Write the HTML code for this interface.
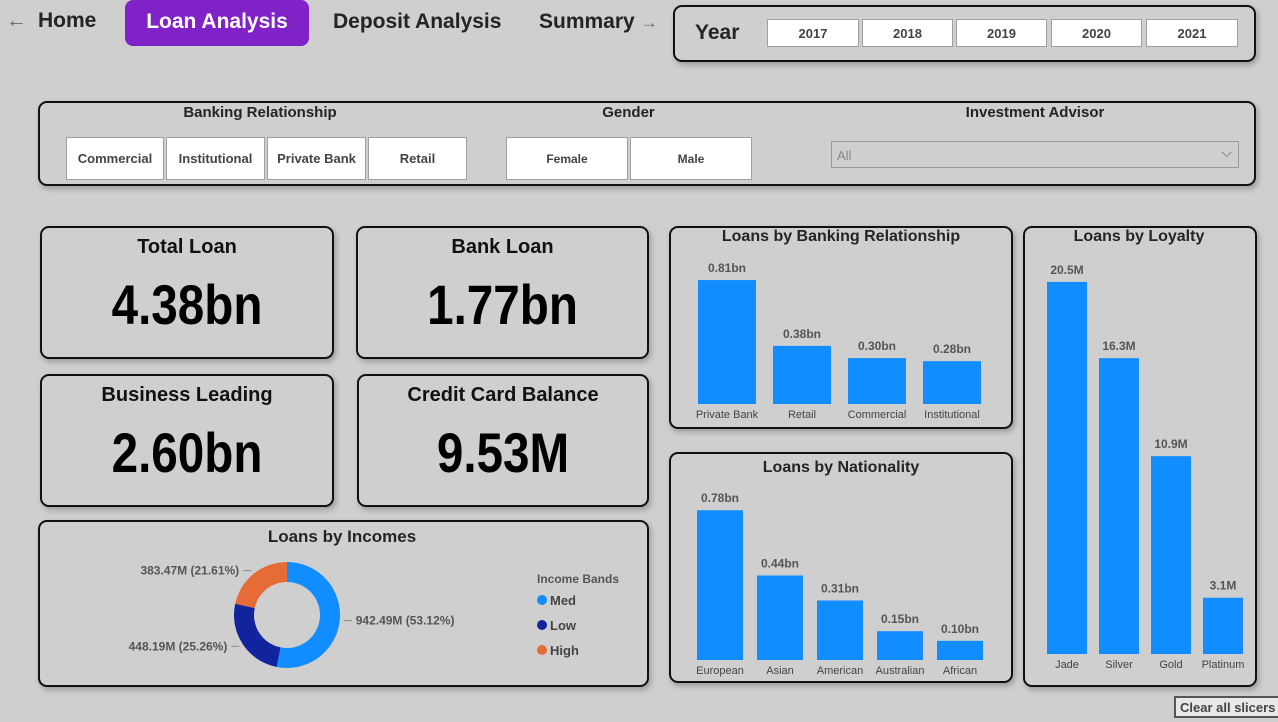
<!DOCTYPE html>
<html><head><meta charset="utf-8"><style>
body{margin:0;width:1278px;height:722px;background:#cfcfcf;font-family:"Liberation Sans",sans-serif;position:relative;overflow:hidden;color:#252423}
.abs{position:absolute;box-sizing:border-box}
.panel{position:absolute;box-sizing:border-box;border:2.5px solid #111;border-radius:9px;background:#cfcfcf;box-shadow:2px 3px 6px rgba(0,0,0,.25)}
.nav{position:absolute;font-weight:bold;font-size:21px;color:#252423}
.btn{position:absolute;box-sizing:border-box;background:#fff;border:1.5px solid #a0a0a0;font-size:13px;font-weight:bold;color:#444;display:flex;align-items:center;justify-content:center}
.stitle{position:absolute;font-size:15px;font-weight:bold;text-align:center;color:#252423}
.kt{position:absolute;left:0;right:0;text-align:center;font-weight:bold;font-size:20px;top:8px;color:#111}
.kv{position:absolute;left:0;right:0;text-align:center;font-weight:bold;font-size:56px;top:44px;color:#000;transform:scaleX(.85)}
svg text{font-family:"Liberation Sans",sans-serif}
</style></head><body>
<div class="nav" style="left:6px;top:9px;color:#666">←</div>
<div class="nav" style="left:38px;top:9px">Home</div>
<div class="abs" style="left:125px;top:0;width:184px;height:46px;background:#7f22c8;border-radius:8px;color:#fff;font-weight:bold;font-size:21px;text-align:center;line-height:44px">Loan Analysis</div>
<div class="nav" style="left:333px;top:10px">Deposit Analysis</div>
<div class="nav" style="left:539px;top:10px">Summary <span style="color:#666;font-size:17px">→</span></div>

<div class="panel" style="left:673px;top:5px;width:583px;height:57px">
<div class="abs" style="left:20px;top:14px;font-size:21px;font-weight:bold">Year</div>
</div>
<div class="btn" style="left:767px;top:19px;width:92px;height:28px">2017</div>
<div class="btn" style="left:862px;top:19px;width:91px;height:28px">2018</div>
<div class="btn" style="left:956px;top:19px;width:91px;height:28px">2019</div>
<div class="btn" style="left:1051px;top:19px;width:91px;height:28px">2020</div>
<div class="btn" style="left:1146px;top:19px;width:92px;height:28px">2021</div>

<div class="panel" style="left:38px;top:101px;width:1218px;height:85px"></div>
<div class="stitle" style="left:60px;width:400px;top:104px">Banking Relationship</div>
<div class="btn" style="left:66px;top:137px;width:98px;height:43px">Commercial</div>
<div class="btn" style="left:166px;top:137px;width:99px;height:43px">Institutional</div>
<div class="btn" style="left:267px;top:137px;width:99px;height:43px">Private Bank</div>
<div class="btn" style="left:368px;top:137px;width:99px;height:43px">Retail</div>
<div class="stitle" style="left:506px;width:245px;top:104px">Gender</div>
<div class="btn" style="left:506px;top:137px;width:122px;height:43px;font-size:12px">Female</div>
<div class="btn" style="left:630px;top:137px;width:122px;height:43px;font-size:12px">Male</div>
<div class="stitle" style="left:831px;width:408px;top:104px">Investment Advisor</div>
<div class="abs" style="left:831px;top:141px;width:408px;height:27px;border:1px solid #999;font-size:13px;color:#888;padding:6px 5px">All<span style="position:absolute;right:6px;top:2px;font-size:14px;color:#666">⌵</span></div>

<div class="panel" style="left:40px;top:226px;width:294px;height:133px"><div class="kt">Total Loan</div><div class="kv">4.38bn</div></div>
<div class="panel" style="left:356px;top:226px;width:293px;height:133px"><div class="kt">Bank Loan</div><div class="kv">1.77bn</div></div>
<div class="panel" style="left:40px;top:374px;width:294px;height:133px"><div class="kt">Business Leading</div><div class="kv">2.60bn</div></div>
<div class="panel" style="left:357px;top:374px;width:292px;height:133px"><div class="kt">Credit Card Balance</div><div class="kv">9.53M</div></div>

<div class="panel" style="left:38px;top:520px;width:611px;height:167px"></div>
<div class="panel" style="left:669px;top:226px;width:344px;height:203px"></div>
<div class="panel" style="left:669px;top:452px;width:344px;height:231px"></div>
<div class="panel" style="left:1023px;top:226px;width:234px;height:461px"></div>
<div class="abs" style="left:1174px;top:696px;width:110px;height:22px;border:2px solid #555;background:#e8e8e8;font-size:13px;font-weight:bold;color:#444;padding:2px 4px">Clear all slicers</div>

<svg id="ch" width="1278" height="722" style="position:absolute;left:0;top:0"></svg>
<script>
const brCats=["Private Bank","Retail","Commercial","Institutional"];
const brVals=[0.81,0.38,0.30,0.28];
const brLabels=["0.81bn","0.38bn","0.30bn","0.28bn"];
const natCats=["European","Asian","American","Australian","African"];
const natVals=[0.78,0.44,0.31,0.15,0.10];
const natLabels=["0.78bn","0.44bn","0.31bn","0.15bn","0.10bn"];
const loyCats=["Jade","Silver","Gold","Platinum"];
const loyVals=[20.5,16.3,10.9,3.1];
const loyLabels=["20.5M","16.3M","10.9M","3.1M"];
const incCats=["Med","Low","High"];
const incVals=[942.49,448.19,383.47];
const incLabels=["942.49M (53.12%)","448.19M (25.26%)","383.47M (21.61%)"];
const incColors=["#118DFF","#12239E","#E66C37"];
const NS="http://www.w3.org/2000/svg";
const svg=document.getElementById('ch');
function mk(t,a,p){const e=document.createElementNS(NS,t);for(const k in a)e.setAttribute(k,a[k]);(p||svg).appendChild(e);return e;}
function txt(x,y,s,size,w,fill,anchor){const e=mk('text',{x:x,y:y,'font-size':size,'font-weight':w,fill:fill,'text-anchor':anchor||'middle'});e.textContent=s;return e;}
function barChart(name,title,titleX,titleY,cats,vals,labels,x0,step,bw,base,pxPer){
  const t=txt(titleX,titleY,title,16,'bold','#252423');
  
  
  const y=v=>base-v*pxPer;
  cats.forEach((c,i)=>{
    const x=x0+i*step;
    const r=mk('rect',{x:x,y:y(vals[i]),width:bw,height:base-y(vals[i]),fill:'#118DFF'});
    
    
    const l=txt(x+bw/2,y(vals[i])-8,labels[i],12,'bold','#555');
    
    
    const c2=txt(x+bw/2,base+14,c,11,'normal','#444');
    
    
  });
}
barChart('banking-relationship','Loans by Banking Relationship',841,241,brCats,brVals,brLabels,698,75,58,404,153);
barChart('nationality','Loans by Nationality',841,472,natCats,natVals,natLabels,697,60,46,660,192);
barChart('loyalty','Loans by Loyalty',1139,241,loyCats,loyVals,loyLabels,1047,52,40,654,18.15);
const t=txt(342,542,'Loans by Incomes',17,'bold','#252423');


const cx=287,cy=615,R=53,r0=33;
const tot=incVals.reduce((a,b)=>a+b,0);
let a0=-Math.PI/2;
incVals.forEach((v,i)=>{
  const a1=a0+v/tot*2*Math.PI,lg=(a1-a0)>Math.PI?1:0;
  const p=(a,rr)=>[cx+rr*Math.cos(a),cy+rr*Math.sin(a)];
  const [x1,y1]=p(a0,R),[x2,y2]=p(a1,R),[x3,y3]=p(a1,r0),[x4,y4]=p(a0,r0);
  const s=mk('path',{d:`M${x1},${y1}A${R},${R} 0 ${lg} 1 ${x2},${y2}L${x3},${y3}A${r0},${r0} 0 ${lg} 0 ${x4},${y4}Z`,fill:incColors[i]});
  
  
  const am=(a0+a1)/2,[ex,ey]=p(am,R+4);
  const right=Math.cos(am)>0;
  const lx=right?ex+8:ex-8;
  mk('polyline',{points:`${ex},${ey} ${lx},${ey}`,stroke:'#888',fill:'none'});
  const l=txt(right?lx+4:lx-4,ey+4,incLabels[i],12,'bold','#555',right?'start':'end');
  
  
  a0=a1;
});
const lt=txt(537,583,'Income Bands',12,'bold','#555','start');


incCats.forEach((c,i)=>{
  const g=mk('g',{});
  
  
  mk('circle',{cx:542,cy:600+i*25,r:5,fill:incColors[i]},g);
  const e=txt(550,605+i*25,c,13,'bold','#444','start');g.appendChild(e);
});
</script>
</body></html>
